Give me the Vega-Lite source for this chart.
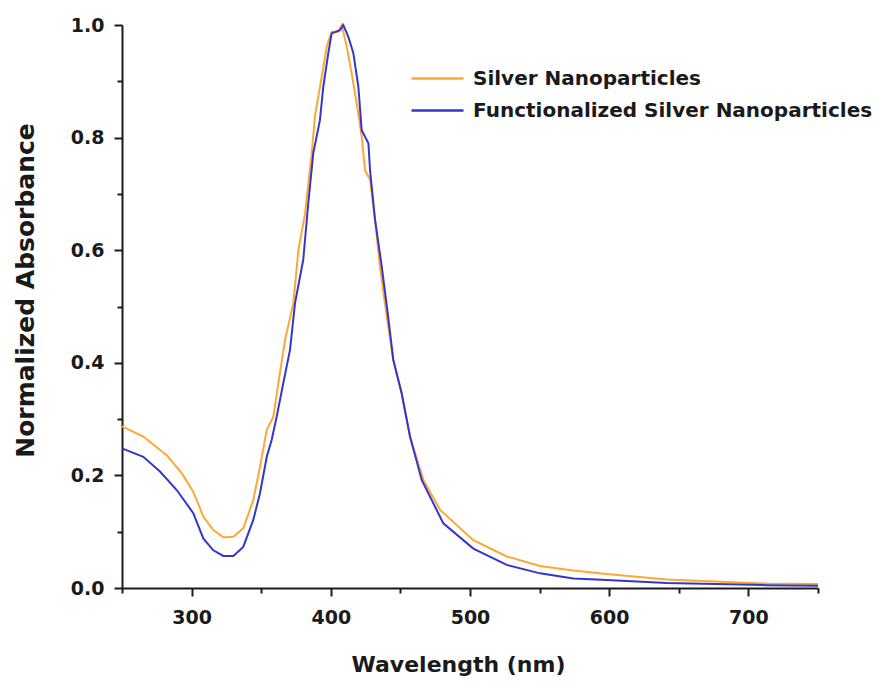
{
  "$schema": "https://vega.github.io/schema/vega-lite/v6.json",
  "width": 696,
  "height": 563,
  "autosize": "none",
  "padding": {"left": 122, "top": 25, "right": 60, "bottom": 94},
  "background": "white",
  "config": {
    "view": {"stroke": null},
    "font": "DejaVu Sans"
  },
  "data": {
    "values": [
      {"series": "Silver Nanoparticles", "wavelength": 250, "absorbance": 0.287},
      {"series": "Silver Nanoparticles", "wavelength": 265.3, "absorbance": 0.269},
      {"series": "Silver Nanoparticles", "wavelength": 282.1, "absorbance": 0.236},
      {"series": "Silver Nanoparticles", "wavelength": 292.9, "absorbance": 0.204},
      {"series": "Silver Nanoparticles", "wavelength": 301.2, "absorbance": 0.171},
      {"series": "Silver Nanoparticles", "wavelength": 308.4, "absorbance": 0.127},
      {"series": "Silver Nanoparticles", "wavelength": 315.6, "absorbance": 0.103},
      {"series": "Silver Nanoparticles", "wavelength": 322.8, "absorbance": 0.090},
      {"series": "Silver Nanoparticles", "wavelength": 330.0, "absorbance": 0.091},
      {"series": "Silver Nanoparticles", "wavelength": 337.1, "absorbance": 0.106},
      {"series": "Silver Nanoparticles", "wavelength": 344.3, "absorbance": 0.156},
      {"series": "Silver Nanoparticles", "wavelength": 349.1, "absorbance": 0.215},
      {"series": "Silver Nanoparticles", "wavelength": 354.0, "absorbance": 0.281},
      {"series": "Silver Nanoparticles", "wavelength": 358.7, "absorbance": 0.304},
      {"series": "Silver Nanoparticles", "wavelength": 362.3, "absorbance": 0.364},
      {"series": "Silver Nanoparticles", "wavelength": 367.1, "absorbance": 0.440},
      {"series": "Silver Nanoparticles", "wavelength": 373.1, "absorbance": 0.506},
      {"series": "Silver Nanoparticles", "wavelength": 376.7, "absorbance": 0.600},
      {"series": "Silver Nanoparticles", "wavelength": 381.5, "absorbance": 0.665},
      {"series": "Silver Nanoparticles", "wavelength": 386.3, "absorbance": 0.772},
      {"series": "Silver Nanoparticles", "wavelength": 388.7, "absorbance": 0.840},
      {"series": "Silver Nanoparticles", "wavelength": 393.5, "absorbance": 0.908},
      {"series": "Silver Nanoparticles", "wavelength": 397.1, "absorbance": 0.962},
      {"series": "Silver Nanoparticles", "wavelength": 400.6, "absorbance": 0.988},
      {"series": "Silver Nanoparticles", "wavelength": 405.4, "absorbance": 0.988},
      {"series": "Silver Nanoparticles", "wavelength": 407.8, "absorbance": 1.0},
      {"series": "Silver Nanoparticles", "wavelength": 411.4, "absorbance": 0.962},
      {"series": "Silver Nanoparticles", "wavelength": 415.0, "absorbance": 0.914},
      {"series": "Silver Nanoparticles", "wavelength": 418.6, "absorbance": 0.861},
      {"series": "Silver Nanoparticles", "wavelength": 422.2, "absorbance": 0.802},
      {"series": "Silver Nanoparticles", "wavelength": 424.6, "absorbance": 0.742},
      {"series": "Silver Nanoparticles", "wavelength": 428.2, "absorbance": 0.725},
      {"series": "Silver Nanoparticles", "wavelength": 431.8, "absorbance": 0.654},
      {"series": "Silver Nanoparticles", "wavelength": 435.3, "absorbance": 0.571},
      {"series": "Silver Nanoparticles", "wavelength": 440.2, "absorbance": 0.482},
      {"series": "Silver Nanoparticles", "wavelength": 444.9, "absorbance": 0.405},
      {"series": "Silver Nanoparticles", "wavelength": 450.9, "absorbance": 0.346},
      {"series": "Silver Nanoparticles", "wavelength": 456.9, "absorbance": 0.269},
      {"series": "Silver Nanoparticles", "wavelength": 466.5, "absorbance": 0.192},
      {"series": "Silver Nanoparticles", "wavelength": 478.4, "absorbance": 0.139},
      {"series": "Silver Nanoparticles", "wavelength": 502.4, "absorbance": 0.085},
      {"series": "Silver Nanoparticles", "wavelength": 526.4, "absorbance": 0.056},
      {"series": "Silver Nanoparticles", "wavelength": 550.3, "absorbance": 0.039},
      {"series": "Silver Nanoparticles", "wavelength": 574.2, "absorbance": 0.031},
      {"series": "Silver Nanoparticles", "wavelength": 598.2, "absorbance": 0.025},
      {"series": "Silver Nanoparticles", "wavelength": 641.3, "absorbance": 0.015},
      {"series": "Silver Nanoparticles", "wavelength": 713.2, "absorbance": 0.008},
      {"series": "Silver Nanoparticles", "wavelength": 750, "absorbance": 0.007},
      {"series": "Functionalized Silver Nanoparticles", "wavelength": 250, "absorbance": 0.248},
      {"series": "Functionalized Silver Nanoparticles", "wavelength": 265.3, "absorbance": 0.233},
      {"series": "Functionalized Silver Nanoparticles", "wavelength": 277.3, "absorbance": 0.207},
      {"series": "Functionalized Silver Nanoparticles", "wavelength": 289.3, "absorbance": 0.174},
      {"series": "Functionalized Silver Nanoparticles", "wavelength": 301.2, "absorbance": 0.133},
      {"series": "Functionalized Silver Nanoparticles", "wavelength": 308.4, "absorbance": 0.088},
      {"series": "Functionalized Silver Nanoparticles", "wavelength": 315.6, "absorbance": 0.067},
      {"series": "Functionalized Silver Nanoparticles", "wavelength": 322.8, "absorbance": 0.057},
      {"series": "Functionalized Silver Nanoparticles", "wavelength": 330.0, "absorbance": 0.057},
      {"series": "Functionalized Silver Nanoparticles", "wavelength": 337.1, "absorbance": 0.073},
      {"series": "Functionalized Silver Nanoparticles", "wavelength": 344.3, "absorbance": 0.121},
      {"series": "Functionalized Silver Nanoparticles", "wavelength": 349.1, "absorbance": 0.168},
      {"series": "Functionalized Silver Nanoparticles", "wavelength": 354.0, "absorbance": 0.233},
      {"series": "Functionalized Silver Nanoparticles", "wavelength": 357.5, "absorbance": 0.263},
      {"series": "Functionalized Silver Nanoparticles", "wavelength": 361.1, "absorbance": 0.304},
      {"series": "Functionalized Silver Nanoparticles", "wavelength": 365.9, "absorbance": 0.364},
      {"series": "Functionalized Silver Nanoparticles", "wavelength": 370.7, "absorbance": 0.423},
      {"series": "Functionalized Silver Nanoparticles", "wavelength": 374.3, "absorbance": 0.506},
      {"series": "Functionalized Silver Nanoparticles", "wavelength": 380.2, "absorbance": 0.583},
      {"series": "Functionalized Silver Nanoparticles", "wavelength": 383.8, "absorbance": 0.683},
      {"series": "Functionalized Silver Nanoparticles", "wavelength": 387.4, "absorbance": 0.772},
      {"series": "Functionalized Silver Nanoparticles", "wavelength": 392.2, "absorbance": 0.831},
      {"series": "Functionalized Silver Nanoparticles", "wavelength": 394.6, "absorbance": 0.890},
      {"series": "Functionalized Silver Nanoparticles", "wavelength": 398.2, "absorbance": 0.950},
      {"series": "Functionalized Silver Nanoparticles", "wavelength": 400.6, "absorbance": 0.985},
      {"series": "Functionalized Silver Nanoparticles", "wavelength": 406.6, "absorbance": 0.991},
      {"series": "Functionalized Silver Nanoparticles", "wavelength": 409.0, "absorbance": 1.0},
      {"series": "Functionalized Silver Nanoparticles", "wavelength": 412.6, "absorbance": 0.979},
      {"series": "Functionalized Silver Nanoparticles", "wavelength": 416.2, "absorbance": 0.950},
      {"series": "Functionalized Silver Nanoparticles", "wavelength": 419.8, "absorbance": 0.890},
      {"series": "Functionalized Silver Nanoparticles", "wavelength": 422.2, "absorbance": 0.813},
      {"series": "Functionalized Silver Nanoparticles", "wavelength": 427.0, "absorbance": 0.790},
      {"series": "Functionalized Silver Nanoparticles", "wavelength": 428.2, "absorbance": 0.742},
      {"series": "Functionalized Silver Nanoparticles", "wavelength": 431.8, "absorbance": 0.654},
      {"series": "Functionalized Silver Nanoparticles", "wavelength": 436.6, "absorbance": 0.571},
      {"series": "Functionalized Silver Nanoparticles", "wavelength": 440.8, "absorbance": 0.490},
      {"series": "Functionalized Silver Nanoparticles", "wavelength": 444.9, "absorbance": 0.405},
      {"series": "Functionalized Silver Nanoparticles", "wavelength": 450.9, "absorbance": 0.346},
      {"series": "Functionalized Silver Nanoparticles", "wavelength": 456.9, "absorbance": 0.269},
      {"series": "Functionalized Silver Nanoparticles", "wavelength": 465.3, "absorbance": 0.192},
      {"series": "Functionalized Silver Nanoparticles", "wavelength": 480.8, "absorbance": 0.115},
      {"series": "Functionalized Silver Nanoparticles", "wavelength": 502.4, "absorbance": 0.070},
      {"series": "Functionalized Silver Nanoparticles", "wavelength": 526.4, "absorbance": 0.041},
      {"series": "Functionalized Silver Nanoparticles", "wavelength": 550.3, "absorbance": 0.026},
      {"series": "Functionalized Silver Nanoparticles", "wavelength": 574.2, "absorbance": 0.017},
      {"series": "Functionalized Silver Nanoparticles", "wavelength": 598.2, "absorbance": 0.014},
      {"series": "Functionalized Silver Nanoparticles", "wavelength": 641.3, "absorbance": 0.009},
      {"series": "Functionalized Silver Nanoparticles", "wavelength": 713.2, "absorbance": 0.005},
      {"series": "Functionalized Silver Nanoparticles", "wavelength": 750, "absorbance": 0.004}
    ]
  },
  "mark": {"type": "line", "strokeWidth": 2, "interpolate": "linear"},
  "encoding": {
    "x": {
      "field": "wavelength",
      "type": "quantitative",
      "scale": {"domain": [250, 750], "nice": false, "zero": false},
      "axis": {
        "title": "Wavelength (nm)",
        "values": [250, 300, 350, 400, 450, 500, 550, 600, 650, 700, 750],
        "labelExpr": "(datum.value % 100 === 0) ? datum.label : ''",
        "grid": false,
        "domainColor": "#1a1a1a",
        "domainWidth": 2,
        "tickColor": "#1a1a1a",
        "tickWidth": 2,
        "tickSize": {"condition": {"test": "datum.value % 100 === 0", "value": 8}, "value": 5},
        "labelFont": "DejaVu Sans",
        "labelFontWeight": "bold",
        "labelFontSize": 19,
        "labelColor": "#1a1a1a",
        "labelPadding": 12,
        "titleFont": "DejaVu Sans",
        "titleFontWeight": "bold",
        "titleFontSize": 22,
        "titleColor": "#1a1a1a",
        "titlePadding": 27,
        "titleX": 336
      }
    },
    "y": {
      "field": "absorbance",
      "type": "quantitative",
      "scale": {"domain": [0, 1], "nice": false},
      "axis": {
        "title": "Normalized Absorbance",
        "values": [0, 0.1, 0.2, 0.3, 0.4, 0.5, 0.6, 0.7, 0.8, 0.9, 1.0],
        "format": ".1f",
        "labelExpr": "(round(datum.value * 10) % 2 === 0) ? datum.label : ''",
        "grid": false,
        "domainColor": "#1a1a1a",
        "domainWidth": 2,
        "tickColor": "#1a1a1a",
        "tickWidth": 2,
        "tickSize": {"condition": {"test": "round(datum.value * 10) % 2 === 0", "value": 8}, "value": 5},
        "labelFont": "DejaVu Sans",
        "labelFontWeight": "bold",
        "labelFontSize": 19,
        "labelColor": "#1a1a1a",
        "labelPadding": 10,
        "titleFont": "DejaVu Sans",
        "titleFontWeight": "bold",
        "titleFontSize": 25,
        "titleColor": "#1a1a1a",
        "titlePadding": 32,
        "titleY": 265
      }
    },
    "color": {
      "field": "series",
      "type": "nominal",
      "scale": {
        "domain": ["Silver Nanoparticles", "Functionalized Silver Nanoparticles"],
        "range": ["#FFA733", "#3535CC"]
      },
      "legend": {
        "title": null,
        "orient": "none",
        "legendX": 304,
        "legendY": 42,
        "symbolType": "M-2.6,0H2.6",
        "symbolSize": 400,
        "symbolStrokeWidth": 2.5,
        "symbolFillColor": "transparent",
        "rowPadding": 10,
        "labelOffset": 24,
        "labelFont": "DejaVu Sans",
        "labelFontWeight": "bold",
        "labelFontSize": 20,
        "labelColor": "#1a1a1a",
        "labelLimit": 500
      }
    }
  }
}
